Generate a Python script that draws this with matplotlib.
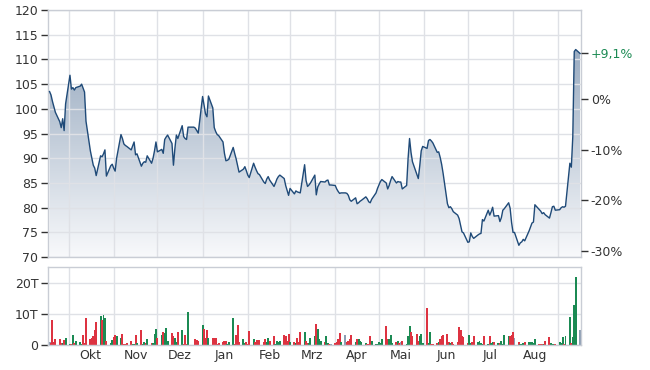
import numpy as np
import pandas as pd
import matplotlib
matplotlib.use("Agg")
import matplotlib.pyplot as plt
import matplotlib.dates as mdates
from matplotlib.colors import LinearSegmentedColormap
from matplotlib.ticker import FixedLocator, FuncFormatter, NullFormatter

# Schlusskurse je Handelstag (Mo-Fr), 18.09.2023 - 16.09.2024
kurse = [
    103.5, 102.8, 101.5, 100.4, 99.3,
    97.4, 96.2, 98.0, 95.6, 101.0,
    106.8, 104.0, 104.3, 103.8, 104.3,
    104.6, 105.0, 104.2, 103.4, 97.5,
    91.5, 90.0, 88.6, 88.0, 86.5,
    90.5, 90.3, 90.9, 91.7, 86.4,
    88.5, 88.8, 88.0, 87.4, 90.0,
    94.8, 94.0, 92.9, 92.6, 92.4,
    91.7, 92.5, 93.3, 90.7, 90.9,
    88.4, 89.0, 89.3, 89.2, 90.5,
    89.0, 90.0, 91.5, 93.3, 91.3,
    91.8, 91.0, 93.8, 94.3, 94.7,
    93.0, 88.6, 92.0, 94.7, 94.0,
    96.6, 94.4, 94.0, 93.8, 96.3,
    96.3, 96.3, 96.1, 95.6, 95.1,
    102.5, 100.8, 99.0, 98.4, 102.6,
    100.2, 96.2, 95.4, 94.8, 94.6,
    93.3, 91.0, 89.5, 89.6, 89.8,
    92.2, 91.0, 89.9, 88.5, 87.2,
    87.8, 88.3, 87.5, 86.6, 86.1,
    89.0, 88.2, 87.5, 86.9, 86.7,
    85.2, 84.9, 85.8, 86.3, 85.6,
    84.3, 85.0, 85.8, 86.3, 86.6,
    85.9, 84.5, 83.5, 82.5, 83.9,
    82.8, 83.4, 83.2, 83.1, 83.0,
    88.7, 85.5, 84.3, 84.6, 85.0,
    86.6, 82.6, 84.2, 84.8, 85.3,
    85.2, 85.5, 85.6, 84.6, 84.6,
    84.5, 83.8, 83.3, 82.9, 83.0,
    83.0, 82.9, 82.5, 81.6, 81.3,
    82.0, 80.8, 81.0, 81.3, 81.5,
    82.2, 81.8, 81.2, 81.0, 81.7,
    83.0, 83.9, 84.6, 85.3, 85.7,
    85.0, 83.8, 84.5, 85.5, 86.3,
    85.0, 85.3, 85.2, 85.2, 83.8,
    84.5, 90.0, 94.0, 91.2, 89.3,
    86.8, 85.9, 88.5, 91.5, 92.4,
    92.0, 93.6, 93.8, 93.5, 93.1,
    91.2, 91.3, 90.2, 88.8, 87.0,
    80.8, 80.0, 80.2, 79.8, 79.2,
    78.5, 77.8, 76.5, 75.1, 74.9,
    73.0, 73.1, 74.9, 74.2, 73.8,
    74.5, 74.7, 74.8, 77.6, 77.3,
    79.5, 78.5, 79.2, 80.1, 78.3,
    78.4, 77.2, 78.0, 79.5, 79.8,
    81.0, 79.9, 77.0, 75.0, 75.0,
    72.4, 72.9, 73.1, 73.6, 73.3,
    75.3, 76.1, 76.9, 77.1, 80.6,
    79.6, 79.3, 78.8, 79.0, 78.6,
    77.9, 79.0, 80.2, 80.3, 79.5,
    79.6, 80.0, 80.2, 80.1, 80.3,
    89.0, 88.2, 94.4, 111.6, 112.0,
    111.2,
]

# Umsatz in Tausend Stueck
volumen = [
    0.9, 0.6, 8.0, 0.9, 1.9,
    1.9, 0.5, 0.5, 1.6, 2.1,
    0.2, 0.2, 3.2, 0.5, 1.3,
    0.9, 0.4, 3.2, 0.5, 8.8,
    1.9, 2.1, 2.7, 4.8, 7.5,
    9.4, 8.0, 9.7, 8.8, 1.3,
    0.5, 1.6, 2.4, 3.2, 2.7,
    2.2, 3.5, 0.2, 0.2, 0.5,
    1.3, 0.2, 0.2, 3.2, 0.5,
    4.8, 0.2, 0.9, 0.5, 1.9,
    0.5, 0.5, 3.4, 5.2, 2.2,
    3.2, 4.1, 3.8, 5.4, 1.3,
    3.8, 2.9, 2.2, 0.9, 4.0,
    4.8, 0.3, 3.2, 0.2, 10.5,
    0.0, 0.0, 1.9, 1.6, 1.1,
    6.5, 5.2, 2.2, 4.8, 2.2,
    2.2, 2.2, 2.2, 0.2, 0.5,
    0.9, 1.3, 1.1, 0.3, 0.9,
    8.8, 0.3, 3.2, 6.5, 0.9,
    1.9, 0.5, 0.9, 0.2, 4.5,
    1.9, 0.9, 1.6, 0.9, 1.6,
    0.9, 1.9, 0.9, 2.2, 1.3,
    2.7, 0.2, 1.3, 0.9, 1.1,
    3.2, 3.0, 1.3, 3.5, 0.9,
    0.9, 0.5, 2.2, 0.9, 4.0,
    4.0, 1.1, 0.5, 0.5, 2.2,
    2.7, 6.8, 5.2, 1.9, 1.3,
    0.9, 2.7, 0.5, 0.3, 0.3,
    0.5, 0.9, 1.9, 3.8, 0.9,
    3.2, 0.9, 1.3, 1.9, 3.2,
    0.9, 1.9, 1.9, 1.3, 0.9,
    0.5, 0.2, 0.3, 2.7, 1.3,
    0.2, 0.3, 0.9, 0.5, 1.9,
    6.1, 1.9, 1.9, 3.2, 0.5,
    0.9, 1.3, 0.5, 0.9, 1.3,
    0.2, 2.9, 6.2, 4.0, 2.7,
    3.4, 1.3, 2.7, 3.4, 0.5,
    12.0, 0.5, 4.3, 0.2, 0.2,
    0.5, 0.9, 1.9, 2.7, 3.2,
    3.4, 0.9, 0.5, 0.9, 0.2,
    0.9, 5.6, 4.8, 2.9, 2.4,
    0.5, 3.2, 0.5, 0.9, 2.7,
    0.9, 1.3, 0.5, 0.2, 2.9,
    0.2, 2.7, 0.5, 0.9, 0.9,
    0.5, 0.5, 1.3, 0.2, 3.2,
    3.0, 2.7, 3.2, 4.3, 2.2,
    0.9, 0.2, 0.2, 0.5, 0.9,
    0.9, 0.9, 0.9, 0.5, 1.9,
    0.2, 0.2, 0.2, 0.2, 1.1,
    2.4, 0.5, 0.2, 0.2, 0.2,
    0.9, 0.5, 2.4, 0.2, 2.7,
    9.1, 0.5, 2.4, 12.9, 21.8,
    4.8,
]

monate = ["Okt", "Nov", "Dez", "Jan", "Feb", "Mrz", "Apr", "Mai", "Jun", "Jul", "Aug"]
kurs_ticks = [70, 75, 80, 85, 90, 95, 100, 105, 110, 115, 120]
prozent_ticks = [0, -10, -20, -30]
volumen_ticks = [0, 10, 20]
basis = 101.9  # Bezugskurs fuer 0%

TEXT = "#333333"
GRID = "#dfe1e6"
LINIE = "#1f4a78"
GRUEN = "#1b8a53"
ROT = "#dd3341"
GRAU = "#8c9db3"

tage = pd.bdate_range("2023-09-18", periods=len(kurse))
x = mdates.date2num(tage)
x0 = mdates.date2num(pd.Timestamp("2023-09-17"))
x1 = mdates.date2num(pd.Timestamp("2024-09-16")) + 0.7
monatsanfang = pd.date_range("2023-10-01", "2024-09-01", freq="MS")
monatsmitte = pd.date_range("2023-10-01", periods=len(monate), freq="MS") + pd.Timedelta(days=15)

plt.rcParams["font.family"] = ["DejaVu Sans"]
plt.rcParams["font.size"] = 9

fig = plt.figure(figsize=(6.5, 3.7), dpi=100)
ax = fig.add_axes([0.074, 0.305, 0.820, 0.668])
axv = fig.add_axes([0.074, 0.068, 0.820, 0.211])

# Kursflaeche mit Farbverlauf
verlauf = LinearSegmentedColormap.from_list("verlauf", ["#f8f9fb", "#889db6"])
flaeche = ax.fill_between(x, kurse, 70, facecolor="none", edgecolor="none")
bild = ax.imshow(np.linspace(0, 1, 256).reshape(-1, 1), cmap=verlauf, origin="lower",
                 aspect="auto", extent=[x0, x1, 70, 120], zorder=0)
bild.set_clip_path(flaeche.get_paths()[0], transform=ax.transData)
ax.plot(x, kurse, color=LINIE, lw=1.0, zorder=3)

ax.set_xlim(x0, x1)
ax.set_ylim(70, 120)
ax.set_axisbelow(True)
ax.yaxis.set_major_locator(FixedLocator(kurs_ticks))
ax.xaxis.set_major_locator(FixedLocator(mdates.date2num(monatsanfang)))
ax.grid(True, color=GRID, lw=1)
ax.tick_params(axis="x", length=0, labelbottom=False)
ax.tick_params(axis="y", length=5, width=1, pad=2, colors=TEXT, labelsize=9)

# Prozentachse rechts
axp = ax.twinx()
axp.set_ylim(70, 120)
aktuell = (kurse[-1] / basis - 1) * 100
p_pos = [basis * (1 + p / 100) for p in prozent_ticks] + [kurse[-1]]
p_lab = [f"{p}%" for p in prozent_ticks] + [f"+{aktuell:.1f}%".replace(".", ",")]
axp.set_yticks(p_pos)
axp.set_yticklabels(p_lab)
axp.tick_params(axis="y", length=5, width=1, pad=2, colors=TEXT, labelsize=9)
axp.get_yticklabels()[-1].set_color(GRUEN)
for s in axp.spines.values():
    s.set_visible(False)

# Umsatz
farben = [GRAU]
for i in range(1, len(kurse)):
    d = kurse[i] - kurse[i - 1]
    farben.append(GRUEN if d > 0 else (ROT if d < 0 else GRAU))
farben[-1] = GRAU  # laufender Handelstag
axv.bar(x, volumen, width=1.35, color=farben, linewidth=0, zorder=2)
axv.set_xlim(x0, x1)
axv.set_ylim(0, 25.2)
axv.set_axisbelow(True)
axv.yaxis.set_major_locator(FixedLocator(volumen_ticks))
axv.yaxis.set_major_formatter(FuncFormatter(lambda v, p: "0" if v == 0 else f"{int(v)}T"))
axv.xaxis.set_major_locator(FixedLocator(mdates.date2num(monatsanfang)))
axv.xaxis.set_major_formatter(NullFormatter())
axv.set_xticks(mdates.date2num(monatsmitte), labels=monate, minor=True)
axv.grid(True, which="major", color=GRID, lw=1)
axv.tick_params(axis="x", which="both", length=0, pad=3, colors=TEXT, labelsize=9)
axv.tick_params(axis="y", length=5, width=1, pad=2, colors=TEXT, labelsize=9)

for a in (ax, axv):
    for s in a.spines.values():
        s.set_color("#c9cdd5")
        s.set_linewidth(1)

fig.savefig("out.png", dpi=100)
